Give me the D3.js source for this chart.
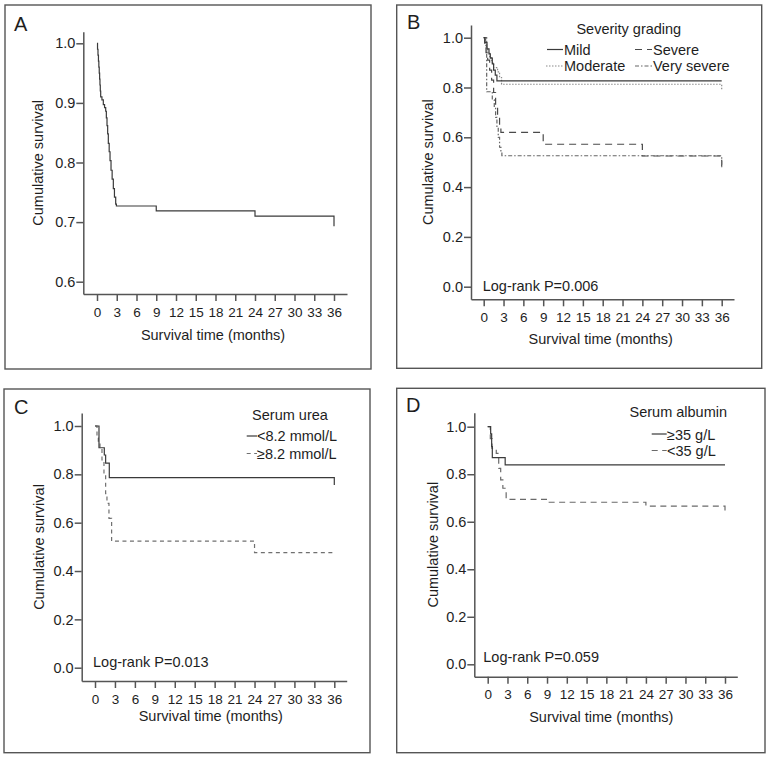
<!DOCTYPE html>
<html><head><meta charset="utf-8">
<script src="https://cdn.jsdelivr.net/npm/d3@7"></script>
<style>
body{margin:0;background:#fff;}
svg text{font-family:"Liberation Sans",Arial,Helvetica,sans-serif;fill:#1e1e1e;}
</style></head>
<body><svg id="c" width="767" height="757"></svg>
<script>
// ---------- DATA ----------
const xTickValues = [0,3,6,9,12,15,18,21,24,27,30,33,36];
const yTicksA = [0.6,0.7,0.8,0.9,1.0];
const yTicksBCD = [0.0,0.2,0.4,0.6,0.8,1.0];
const xTitle = "Survival time (months)";
const yTitle = "Cumulative survival";

// Panel A: overall
const aTime = [0,0.08,0.15,0.22,0.28,0.34,0.4,0.45,0.5,0.56,0.75,0.96,1.15,1.32,1.42,1.52,1.62,1.72,1.85,1.98,2.13,2.3,2.48,2.65,2.84,2.95,9,24,36];
const aSurv = [1.0,0.99,0.98,0.97,0.96,0.95,0.94,0.93,0.92,0.91,0.905,0.897,0.892,0.886,0.875,0.862,0.848,0.832,0.818,0.803,0.787,0.772,0.756,0.742,0.73,0.727,0.719,0.71,0.693];

// Panel B: severity grading
const bLegendTitle = "Severity grading";
const bNames = ["Mild","Moderate","Severe","Very severe"];
const bMildTime = [0,0.2,0.5,0.8,1.0,1.3,1.5,1.75,2.0,36];
const bMildSurv = [1.0,0.98,0.955,0.935,0.918,0.895,0.87,0.85,0.827,0.827];
const bModTime = [0,0.3,0.6,0.9,1.2,1.5,2.1,2.4,2.7,36];
const bModSurv = [1.0,0.96,0.94,0.92,0.9,0.88,0.863,0.84,0.813,0.79];
const bSevTime = [0,0.15,0.35,0.6,0.9,1.2,1.5,1.8,2.1,2.4,2.6,9,24,36];
const bSevSurv = [1.0,0.97,0.94,0.91,0.87,0.83,0.78,0.73,0.69,0.65,0.62,0.572,0.525,0.48];
const bVSevTime = [0,0.45,1.3,1.6,1.8,2.0,2.2,2.4,2.6,2.75,36];
const bVSevSurv = [1.0,0.783,0.75,0.72,0.68,0.64,0.6,0.56,0.54,0.526,0.48];
const bP = "Log-rank P=0.006";

// Panel C: serum urea
const cLegendTitle = "Serum urea";
const cNames = ["<8.2 mmol/L","\u22658.2 mmol/L"];
const cLowTime = [0,0.6,1.4,1.6,2.15,36];
const cLowSurv = [1.0,0.91,0.88,0.846,0.786,0.756];
const cHighTime = [0,0.3,0.5,0.75,1.05,1.35,1.6,1.8,2.1,2.5,24,36];
const cHighSurv = [1.0,0.95,0.93,0.91,0.86,0.8,0.72,0.68,0.618,0.524,0.476,0.476];
const cP = "Log-rank P=0.013";

// Panel D: serum albumin
const dLegendTitle = "Serum albumin";
const dNames = ["\u226535 g/L","<35 g/L"];
const dHighTime = [0,0.45,0.6,0.7,2.65,36];
const dHighSurv = [1.0,0.97,0.916,0.87,0.839,0.839];
const dLowTime = [0,0.4,0.65,1.3,1.67,1.97,2.3,2.8,9,24,36];
const dLowSurv = [1.0,0.95,0.909,0.888,0.825,0.776,0.741,0.694,0.682,0.666,0.645];
const dP = "Log-rank P=0.059";

// ---------- STYLES ----------
const styles = {
  solid:{stroke:"#3a3a3a",dash:null},
  dashed:{stroke:"#4a4a4a",dash:"7,5"},
  dashedC:{stroke:"#707070",dash:"4,3.5"},
  dashedD:{stroke:"#6a6a6a",dash:"6,4.5"},
  dotted:{stroke:"#8a8a8a",dash:"1.5,1.5"},
  dashdot:{stroke:"#666",dash:"4,2,1.5,2"}
};

const zip = (t,s)=>t.map((d,i)=>[d,s[i]]);

const panels = [
  {label:"A",box:[5,5,371,369],lab:[14,31],
   x0:97,x36:334,axL:83.3,axR:347,
   yv1:1.0,yp1:43.3,yv2:0.6,yp2:281.7,axT:31.7,axB:294,yTicks:yTicksA,
   yTitleX:37.5,xTitleX:213,xTitleY:340,
   series:[{d:zip(aTime,aSurv),s:"solid"}]},
  {label:"B",box:[396.7,5,761.7,368.3],lab:[407,28.5],
   x0:483.7,x36:721.7,axL:471,axR:734,
   yv1:1.0,yp1:37.7,yv2:0.0,yp2:286.7,axT:25,axB:299.3,yTicks:yTicksBCD,
   yTitleX:427.5,xTitleX:600.7,xTitleY:344.3,
   pText:bP,pX:482.7,pY:291,
   series:[{d:zip(bSevTime,bSevSurv),s:"dashed"},{d:zip(bVSevTime,bVSevSurv),s:"dashdot"},
           {d:zip(bModTime,bModSurv),s:"dotted"},{d:zip(bMildTime,bMildSurv),s:"solid"}],
   legend:{title:bLegendTitle,tx:628.8,ty:34,
     items:[{n:bNames[0],s:"solid",lx:547,lx2:563,ly:49.5,tx:564,ty:55},
            {n:bNames[1],s:"dotted",lx:546,lx2:563,ly:66,tx:564,ty:71},
            {n:bNames[2],s:"dashed",lx:635,lx2:652,ly:49.5,tx:653,ty:55},
            {n:bNames[3],s:"dashdot",lx:635,lx2:652,ly:66,tx:653,ty:71}]}},
  {label:"C",box:[4,389,370,752.7],lab:[14,414],
   x0:95,x36:334.3,axL:81.7,axR:346.7,
   yv1:1.0,yp1:426,yv2:0.0,yp2:667.7,axT:413,axB:681,yTicks:yTicksBCD,
   yTitleX:39,xTitleX:210.8,xTitleY:721,
   pText:cP,pX:93,pY:667,
   series:[{d:zip(cHighTime,cHighSurv),s:"dashedC"},{d:zip(cLowTime,cLowSurv),s:"solid"}],
   legend:{title:cLegendTitle,tx:290,ty:420,
     items:[{n:cNames[0],s:"solid",lx:246.7,lx2:257,ly:436,tx:257,ty:441},
            {n:cNames[1],s:"dashedC",lx:246.7,lx2:257,ly:453.5,tx:257,ty:459}]}},
  {label:"D",box:[396.7,388.3,765,752.7],lab:[406,412.3],
   x0:487.7,x36:725,axL:474.3,axR:737.3,
   yv1:1.0,yp1:426.7,yv2:0.0,yp2:664.3,axT:412.7,axB:676.7,yTicks:yTicksBCD,
   yTitleX:432.5,xTitleX:601.3,xTitleY:721.7,
   pText:dP,pX:483.3,pY:661.7,
   series:[{d:zip(dLowTime,dLowSurv),s:"dashedD"},{d:zip(dHighTime,dHighSurv),s:"solid"}],
   legend:{title:dLegendTitle,tx:678.3,ty:417,
     items:[{n:dNames[0],s:"solid",lx:651.7,lx2:666.7,ly:434,tx:667,ty:439.5},
            {n:dNames[1],s:"dashedD",lx:651.7,lx2:666.7,ly:450.5,tx:667,ty:455.5}]}}
];

const svg = d3.select("#c");

panels.forEach(p=>{
  const g = svg.append("g");
  g.append("rect").attr("x",p.box[0]).attr("y",p.box[1])
    .attr("width",p.box[2]-p.box[0]).attr("height",p.box[3]-p.box[1])
    .attr("fill","none").attr("stroke","#555").attr("stroke-width",1.4);
  g.append("text").attr("x",p.lab[0]).attr("y",p.lab[1]).attr("font-size",20).text(p.label);

  const xb = d3.scaleLinear().domain([0,36]).range([p.x0,p.x36]);
  const x = d3.scaleLinear().domain([xb.invert(p.axL),xb.invert(p.axR)]).range([p.axL,p.axR]);
  const yb = d3.scaleLinear().domain([p.yv2,p.yv1]).range([p.yp2,p.yp1]);
  const y = d3.scaleLinear().domain([yb.invert(p.axB),yb.invert(p.axT)]).range([p.axB,p.axT]);

  const ax = g.append("g").attr("transform",`translate(0,${p.axB})`)
    .call(d3.axisBottom(x).tickValues(xTickValues).tickSizeInner(7).tickSizeOuter(0).tickPadding(6).tickFormat(d3.format("d")));
  ax.selectAll("text").attr("font-size",13.5).style("font-family","'Liberation Sans',Arial,sans-serif").attr("fill","#1e1e1e");
  const ay = g.append("g").attr("transform",`translate(${p.axL},0)`)
    .call(d3.axisLeft(y).tickValues(p.yTicks).tickSizeInner(7).tickSizeOuter(0).tickPadding(1).tickFormat(d3.format(".1f")));
  ay.selectAll("text").attr("font-size",14.5).style("font-family","'Liberation Sans',Arial,sans-serif").attr("fill","#1e1e1e");
  [ax,ay].forEach(a=>{a.selectAll("path,line").attr("stroke","#555").attr("stroke-width",1.5);});

  g.append("text").attr("x",p.xTitleX).attr("y",p.xTitleY).attr("text-anchor","middle").attr("font-size",14.5).text(xTitle);
  const yc = (p.axT+p.axB)/2;
  g.append("text").attr("transform",`translate(${p.yTitleX},${yc}) rotate(-90)`)
    .attr("text-anchor","middle").attr("dominant-baseline","central").attr("font-size",14.5).text(yTitle);

  const line = d3.line().x(d=>x(d[0])).y(d=>y(d[1])).curve(d3.curveStepAfter);
  p.series.forEach(s=>{
    const st = styles[s.s];
    g.append("path").attr("d",line(s.d)).attr("fill","none").attr("stroke",st.stroke)
      .attr("stroke-width",1.2).attr("stroke-dasharray",st.dash);
  });

  if(p.pText){
    g.append("text").attr("x",p.pX).attr("y",p.pY).attr("font-size",14.5).text(p.pText);
  }
  if(p.legend){
    const L = p.legend;
    g.append("text").attr("x",L.tx).attr("y",L.ty).attr("text-anchor","middle").attr("font-size",14.5).text(L.title);
    L.items.forEach(it=>{
      const st = styles[it.s];
      g.append("line").attr("x1",it.lx).attr("x2",it.lx2).attr("y1",it.ly).attr("y2",it.ly)
        .attr("stroke",st.stroke).attr("stroke-width",1.2).attr("stroke-dasharray",st.dash);
      g.append("text").attr("x",it.tx).attr("y",it.ty).attr("font-size",14.5).text(it.n);
    });
  }
});
</script></body></html>
